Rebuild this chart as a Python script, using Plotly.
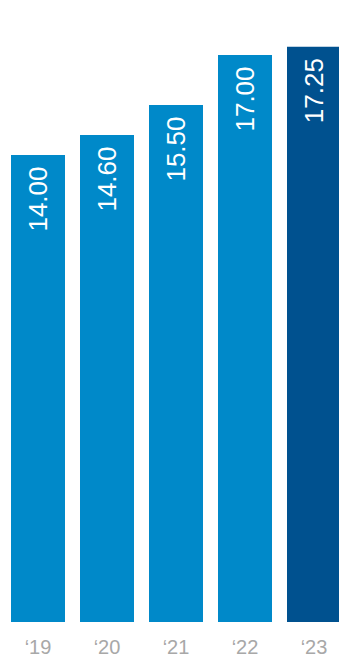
import plotly.graph_objects as go

years = ["‘19", "‘20", "‘21", "‘22", "‘23"]
values = [14.00, 14.60, 15.50, 17.00, 17.25]
colors = ["#0089C9", "#0089C9", "#0089C9", "#0089C9", "#00518F"]

x = list(range(len(years)))

fig = go.Figure()
fig.add_trace(go.Bar(
    x=x, y=values, marker=dict(color=colors, line=dict(width=0)),
    width=54/69, hoverinfo="skip",
))

for xi, v in zip(x, values):
    fig.add_annotation(
        x=xi, y=v, text=f"{v:.2f}", textangle=-90, showarrow=False,
        yanchor="top", xanchor="center", yshift=-10,
        font=dict(family="Liberation Sans, Arial, sans-serif", size=26, color="white"),
    )

fig.update_layout(
    width=339, height=658,
    margin=dict(l=0, r=0, t=0, b=31),
    paper_bgcolor="white", plot_bgcolor="white",
    showlegend=False,
    xaxis=dict(
        range=[-38/69, -38/69 + 339/69],
        tickvals=x, ticktext=years,
        showgrid=False, zeroline=False, showline=False, ticks="",
        ticklabelstandoff=11,
        tickfont=dict(family="Liberation Sans, Arial, sans-serif", size=20, color="#A8A8A8"),
        fixedrange=True,
    ),
    yaxis=dict(
        range=[0, 627/33.62],
        visible=False, fixedrange=True,
    ),
)

fig.write_html("out.html", config={"displayModeBar": False})
